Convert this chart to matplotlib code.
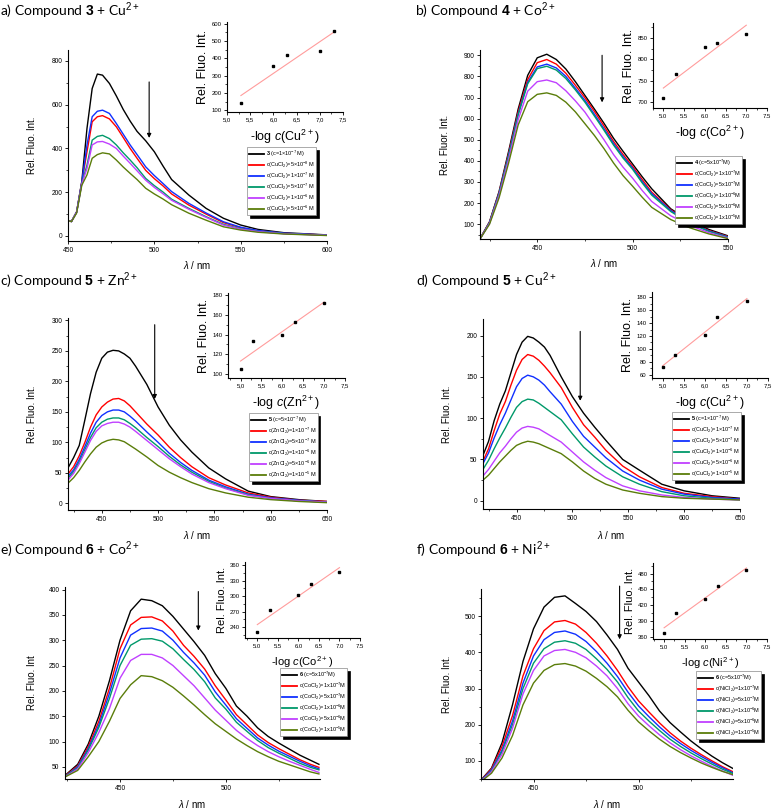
import matplotlib
matplotlib.use('Agg')
import matplotlib.pyplot as plt
from matplotlib.ticker import MultipleLocator, FuncFormatter
from matplotlib.lines import Line2D
import numpy as np

plt.rcParams['font.family'] = ['Liberation Sans', 'DejaVu Sans']
plt.rcParams['mathtext.fontset'] = 'custom'
plt.rcParams['mathtext.rm'] = 'Liberation Sans'
plt.rcParams['mathtext.it'] = 'Liberation Sans:italic'
plt.rcParams['mathtext.bf'] = 'Liberation Sans:bold'

# ---------------- data ----------------
# a) compound 3 + Cu2+
wl_a = [450, 452, 455, 458, 461, 464, 467, 470, 474, 478, 482, 486, 490, 495,
        500, 505, 510, 520, 530, 540, 550, 560, 575, 600]
a_black = [70, 66, 110, 250, 492, 674, 740, 735, 697, 640, 578, 525, 478, 435,
           385, 320, 258, 187, 126, 81, 50, 30, 15, 5]
a_red = [70, 66, 110, 245, 385, 522, 545, 550, 535, 499, 450, 400, 355, 300,
         262, 229, 192, 141, 100, 61, 38, 24, 12, 4]
a_blue = [70, 66, 110, 245, 416, 545, 570, 575, 560, 514, 465, 416, 372, 316,
          276, 240, 203, 149, 105, 65, 40, 25, 13, 4]
a_green = [70, 66, 108, 240, 324, 438, 455, 460, 445, 416, 380, 347, 312, 263,
           230, 201, 168, 126, 88, 53, 33, 21, 11, 3]
a_purple = [70, 66, 108, 238, 309, 416, 430, 432, 420, 400, 365, 332, 298, 255,
            222, 193, 163, 122, 85, 50, 31, 20, 10, 3]
a_olive = [70, 66, 105, 232, 279, 355, 372, 380, 375, 347, 315, 286, 258, 218,
           192, 169, 143, 104, 72, 42, 27, 17, 9, 2]
ins_a_x = [5.3, 6.0, 6.3, 7.0, 7.3]
ins_a_y = [140, 357, 418, 440, 558]

# b) compound 4 + Co2+
wl_b = [420, 425, 430, 435, 440, 445, 450, 455, 460, 465, 470, 475, 480, 485,
        490, 495, 500, 505, 510, 520, 530, 540, 550]
b_black = [31, 112, 255, 445, 645, 805, 888, 905, 880, 835, 775, 710, 645, 578,
           507, 445, 385, 325, 268, 173, 115, 75, 45]
b_red = [31, 110, 250, 435, 632, 785, 865, 880, 858, 815, 758, 699, 634, 565,
         492, 430, 374, 312, 252, 168, 110, 70, 42]
b_blue = [30, 108, 246, 428, 622, 772, 845, 858, 840, 800, 744, 686, 620, 552,
          482, 420, 366, 302, 245, 165, 107, 68, 40]
b_green = [30, 107, 244, 424, 617, 765, 837, 848, 830, 790, 736, 678, 612, 545,
           475, 413, 360, 296, 238, 160, 104, 66, 38]
b_purple = [30, 104, 236, 408, 595, 730, 775, 783, 770, 732, 684, 631, 565, 500,
            430, 370, 318, 260, 208, 140, 94, 60, 35]
b_olive = [30, 100, 225, 390, 570, 680, 715, 722, 710, 678, 632, 576, 520, 458,
           390, 330, 280, 228, 180, 122, 83, 54, 32]
ins_b_x = [5.0, 5.3, 6.0, 6.3, 7.0]
ins_b_y = [709, 765, 829, 839, 860]

# c) compound 5 + Zn2+
wl_c = [420, 425, 430, 435, 440, 445, 450, 455, 460, 465, 470, 475, 480, 490,
        500, 510, 520, 530, 545, 560, 580, 600, 625, 650]
c_black = [58, 75, 95, 137, 180, 215, 238, 248, 251, 250, 245, 238, 225, 195,
           158, 128, 104, 84, 58, 40, 20, 11, 6, 3]
c_red = [48, 60, 78, 100, 125, 145, 158, 166, 171, 172, 168, 160, 150, 130,
         112, 92, 75, 60, 42, 30, 17, 10, 5, 3]
c_blue = [44, 55, 72, 93, 115, 133, 144, 150, 153, 153, 150, 143, 135, 117,
          100, 82, 67, 54, 38, 27, 15, 9, 5, 2]
c_green = [41, 52, 68, 88, 108, 124, 133, 138, 140, 140, 137, 131, 124, 108,
           93, 77, 63, 51, 36, 25, 14, 8, 4, 2]
c_purple = [38, 49, 65, 84, 103, 118, 127, 131, 133, 133, 130, 125, 118, 103,
            88, 73, 60, 48, 34, 24, 13, 8, 4, 2]
c_olive = [33, 42, 54, 68, 81, 92, 99, 103, 105, 104, 101, 95, 89, 76,
           62, 51, 42, 34, 24, 17, 10, 6, 3, 1]
ins_c_x = [5.0, 5.3, 6.0, 6.3, 7.0]
ins_c_y = [105, 133, 140, 153, 172]

# d) compound 5 + Cu2+
wl_d = wl_c
d_black = [55, 72, 97, 117, 133, 155, 177, 192, 199, 197, 192, 186, 176, 150,
           126, 106, 89, 73, 50, 37, 20, 12, 6, 3]
d_red = [48, 63, 85, 105, 120, 140, 158, 171, 177, 175, 170, 163, 155, 137,
         113, 92, 77, 61, 42, 29, 16, 9, 5, 2]
d_blue = [45, 58, 76, 92, 106, 122, 138, 148, 152, 150, 146, 140, 132, 117,
          96, 78, 65, 52, 36, 25, 14, 8, 4, 2]
d_green = [38, 49, 63, 76, 88, 101, 113, 120, 123, 122, 118, 113, 108, 98,
           81, 65, 53, 42, 29, 20, 11, 6, 3, 1]
d_purple = [30, 38, 48, 58, 66, 75, 83, 88, 90, 89, 87, 83, 79, 71,
            59, 47, 37, 28, 18, 12, 7, 4, 2, 1]
d_olive = [25, 31, 39, 47, 54, 61, 67, 70, 72, 71, 69, 66, 63, 57,
           47, 36, 27, 20, 13, 9, 5, 3, 2, 1]
ins_d_x = [5.0, 5.3, 6.0, 6.3, 7.0]
ins_d_y = [72, 90, 122, 150, 174]

# e) compound 6 + Co2+
wl_e = [424, 430, 435, 440, 445, 450, 455, 460, 465, 470, 475, 480, 485, 490,
        495, 500, 505, 510, 515, 520, 525, 530, 535, 540, 544]
e_black = [33, 55, 95, 150, 220, 300, 358, 381, 378, 368, 347, 322, 297, 270,
           234, 205, 170, 150, 127, 110, 97, 85, 73, 63, 55]
e_red = [32, 52, 90, 140, 205, 283, 330, 345, 346, 338, 318, 290, 268, 243,
         210, 182, 153, 133, 113, 98, 86, 75, 64, 55, 49]
e_blue = [31, 50, 86, 133, 195, 265, 310, 323, 324, 318, 300, 276, 255, 231,
          198, 172, 145, 126, 107, 93, 81, 71, 61, 52, 46]
e_green = [31, 48, 83, 128, 185, 250, 290, 302, 303, 298, 283, 262, 242, 218,
           186, 164, 138, 120, 102, 88, 77, 67, 57, 49, 44]
e_purple = [30, 46, 78, 118, 165, 225, 260, 272, 272, 265, 250, 230, 210, 186,
            162, 142, 122, 106, 92, 80, 70, 61, 53, 45, 39]
e_olive = [30, 43, 70, 100, 140, 185, 212, 230, 228, 220, 207, 190, 172, 153,
           135, 120, 105, 92, 80, 70, 61, 54, 47, 40, 36]
ins_e_x = [5.0, 5.3, 6.0, 6.3, 7.0]
ins_e_y = [231, 273, 303, 324, 347]

# f) compound 6 + Ni2+
wl_f = [425, 430, 435, 440, 445, 450, 455, 460, 465, 470, 475, 480, 485, 490,
        495, 500, 505, 510, 515, 520, 525, 530, 535, 540, 545]
f_black = [47, 80, 150, 255, 375, 465, 525, 552, 556, 535, 513, 485, 448, 408,
           356, 318, 280, 238, 206, 180, 155, 133, 113, 95, 79]
f_red = [46, 78, 140, 225, 335, 410, 460, 484, 488, 478, 455, 425, 390, 350,
         305, 266, 235, 205, 178, 155, 135, 117, 100, 84, 70]
f_blue = [45, 75, 130, 210, 315, 390, 435, 455, 459, 450, 430, 402, 370, 333,
          290, 252, 222, 194, 169, 148, 129, 112, 96, 81, 67]
f_green = [45, 72, 125, 200, 300, 370, 410, 428, 432, 425, 408, 382, 353, 318,
           275, 238, 210, 184, 160, 140, 122, 106, 91, 77, 65]
f_purple = [44, 70, 118, 190, 285, 350, 390, 405, 408, 400, 385, 362, 335, 300,
            258, 224, 197, 172, 150, 131, 114, 99, 85, 72, 60]
f_olive = [43, 66, 108, 170, 255, 315, 350, 366, 369, 362, 348, 328, 305, 277,
           240, 208, 183, 160, 140, 123, 108, 94, 82, 71, 62]
ins_f_x = [5.0, 5.3, 6.0, 6.3, 7.0]
ins_f_y = [367, 405, 432, 457, 486]

labels_a = [r'$\mathbf{3}$ (c=1×10$^{-7}$ M)',
            r'c(CuCl$_2$)=5×10$^{-8}$ M', r'c(CuCl$_2$)=1×10$^{-7}$ M',
            r'c(CuCl$_2$)=5×10$^{-7}$ M', r'c(CuCl$_2$)=1×10$^{-6}$ M',
            r'c(CuCl$_2$)=5×10$^{-6}$ M']
labels_b = [r'$\mathbf{4}$ (c=5x10$^{-7}$M)',
            r'c(CoCl$_2$)=1x10$^{-7}$M', r'c(CoCl$_2$)=5x10$^{-7}$M',
            r'c(CoCl$_2$)=1x10$^{-6}$M', r'c(CoCl$_2$)=5x10$^{-6}$M',
            r'c(CoCl$_2$)=1x10$^{-5}$M']
labels_c = [r'$\mathbf{5}$ (c=5×10$^{-7}$ M)',
            r'c(ZnCl$_2$)=1×10$^{-7}$ M', r'c(ZnCl$_2$)=5×10$^{-7}$ M',
            r'c(ZnCl$_2$)=1×10$^{-6}$ M', r'c(ZnCl$_2$)=5×10$^{-6}$ M',
            r'c(ZnCl$_2$)=1×10$^{-5}$ M']
labels_d = [r'$\mathbf{5}$ (c=1×10$^{-7}$ M)',
            r'c(CuCl$_2$)=1×10$^{-7}$ M', r'c(CuCl$_2$)=5×10$^{-7}$ M',
            r'c(CuCl$_2$)=1×10$^{-6}$ M', r'c(CuCl$_2$)=5×10$^{-6}$ M',
            r'c(CuCl$_2$)=1×10$^{-5}$ M']
labels_e = [r'$\mathbf{6}$ (c=5x10$^{-7}$M)',
            r'c(CoCl$_2$)=1x10$^{-7}$M', r'c(CoCl$_2$)=5x10$^{-7}$M',
            r'c(CoCl$_2$)=1x10$^{-6}$M', r'c(CoCl$_2$)=5x10$^{-6}$M',
            r'c(CoCl$_2$)=1x10$^{-5}$M']
labels_f = [r'$\mathbf{6}$ (c=5x10$^{-7}$M)',
            r'c(NiCl$_2$)=1x10$^{-7}$M', r'c(NiCl$_2$)=5x10$^{-7}$M',
            r'c(NiCl$_2$)=1x10$^{-6}$M', r'c(NiCl$_2$)=5x10$^{-6}$M',
            r'c(NiCl$_2$)=1x10$^{-5}$M']

COLORS = ['#000000', '#ff0000', '#1030ff', '#00996a', '#c040ff', '#5a7d0a']
FIT_COLOR = '#ff9c9c'

W, H = 780, 809
fig = plt.figure(figsize=(7.8, 8.09), dpi=100)


def box(l, t, r, b):
    return [l / W, 1 - b / H, (r - l) / W, (b - t) / H]


def style_axes(ax, fs):
    for s in ['top', 'right']:
        ax.spines[s].set_visible(False)
    for s in ['left', 'bottom']:
        ax.spines[s].set_linewidth(0.8)
    ax.tick_params(which='major', direction='out', length=2.5, width=0.6,
                   labelsize=fs, pad=1.5)
    ax.tick_params(which='minor', direction='out', length=1.5, width=0.5)


def panel(p):
    ax = fig.add_axes(box(*p['main']))
    style_axes(ax, 4.8)
    for ys, c in zip(p['series'], COLORS):
        ax.plot(p['wl'], ys, color=c, lw=1.0)
    ax.set_xlim(*p['xlim'])
    ax.set_ylim(*p['ylim'])
    ax.xaxis.set_major_locator(MultipleLocator(50))
    ax.xaxis.set_minor_locator(MultipleLocator(25))
    ax.yaxis.set_major_locator(MultipleLocator(p['ymaj']))
    if p['ymin']:
        ax.yaxis.set_minor_locator(MultipleLocator(p['ymin']))
    ax.yaxis.set_major_formatter(FuncFormatter(lambda v, _: '%d' % v))
    # arrow
    ax.annotate('', xy=(p['arrow'][0], p['arrow'][2]),
                xytext=(p['arrow'][0], p['arrow'][1]),
                arrowprops=dict(arrowstyle='-|>', color='k', lw=0.8,
                                mutation_scale=6, shrinkA=0, shrinkB=0),
                annotation_clip=False)
    l, t, r, b = p['main']
    fig.text(p['ylx'] / W, 1 - (t + b) / 2 / H, p['ylabel'], rotation=90,
             ha='center', va='center', fontsize=7)
    fig.text((l + r) / 2 / W, 1 - p['xly'] / H, r'$\mathit{\lambda}$ / nm',
             ha='center', va='center', fontsize=7)
    fig.text(p['title_xy'][0] / W, 1 - p['title_xy'][1] / H, p['title'],
             family='Lato', fontsize=10, va='baseline')
    handles = [Line2D([], [], color=c, lw=1.3) for c in COLORS]
    leg = ax.legend(handles, p['labels'], loc='upper left',
                    bbox_to_anchor=(p['leg'][0] / W, 1 - p['leg'][1] / H),
                    bbox_transform=fig.transFigure, fontsize=4.0,
                    fancybox=False, shadow={'color': 'k', 'alpha': 1},
                    borderpad=0.3, labelspacing=0.12, handlelength=2.7,
                    handletextpad=0.35, borderaxespad=0, framealpha=1)
    leg.get_frame().set_edgecolor('#888888')
    leg.get_frame().set_linewidth(0.5)

    # inset
    ai = fig.add_axes(box(*p['inset']))
    style_axes(ai, 4.3)
    ix, iy = p['ins_x'], p['ins_y']
    coef = np.polyfit(ix, iy, 1)
    fx = [min(ix), max(ix)]
    ai.plot(fx, np.polyval(coef, fx), color=FIT_COLOR, lw=0.8)
    ai.plot(ix, iy, ls='none', marker='s', ms=1.6, color='k')
    ai.set_xlim(*p['ins_xlim'])
    ai.set_ylim(*p['ins_ylim'])
    ai.xaxis.set_major_locator(MultipleLocator(0.5))
    ai.xaxis.set_minor_locator(MultipleLocator(0.25))
    ai.yaxis.set_major_locator(MultipleLocator(p['ins_ymaj']))
    ai.yaxis.set_minor_locator(MultipleLocator(p['ins_ymaj'] / 2))
    if p['comma']:
        ai.xaxis.set_major_formatter(
            FuncFormatter(lambda v, _: ('%.1f' % v).replace('.', ',')))
    else:
        ai.xaxis.set_major_formatter(FuncFormatter(lambda v, _: '%.1f' % v))
    ai.yaxis.set_major_formatter(FuncFormatter(lambda v, _: '%d' % v))
    ai.set_ylabel('Rel. Fluo. Int.', fontsize=p['ifs'], labelpad=2)
    ai.set_xlabel(p['ins_xlabel'], fontsize=p['ifs'], labelpad=4)


panels = [
    dict(main=(68, 50, 327, 241), inset=(227, 22, 343, 112),
         title=r'a) Compound $\mathbf{3}$ + Cu$^{2+}$', title_xy=(0, 16),
         wl=wl_a, series=[a_black, a_red, a_blue, a_green, a_purple, a_olive],
         labels=labels_a, xlim=(450, 600), ylim=(-23, 850), ymaj=200, ymin=100,
         ylabel='Rel. Fluo. Int.', ylx=32, xly=265, arrow=(497, 704, 448),
         leg=(247, 147), ins_x=ins_a_x, ins_y=ins_a_y, ins_xlim=(5.0, 7.5),
         ins_ylim=(90, 610), ins_ymaj=100, comma=True, ifs=9,
         ins_xlabel=r'-log $c$(Cu$^{2+}$)'),
    dict(main=(480, 50, 728, 239), inset=(653, 23, 767, 108),
         title=r'b) Compound $\mathbf{4}$ + Co$^{2+}$', title_xy=(415, 16),
         wl=wl_b, series=[b_black, b_red, b_blue, b_green, b_purple, b_olive],
         labels=labels_b, xlim=(420, 550), ylim=(30, 925), ymaj=100, ymin=50,
         ylabel='Rel. Fluor. Int.', ylx=445, xly=263, arrow=(484, 900, 677),
         leg=(675, 156), ins_x=ins_b_x, ins_y=ins_b_y, ins_xlim=(4.75, 7.5),
         ins_ylim=(686, 885), ins_ymaj=50, comma=False, ifs=9,
         ins_xlabel=r'-log $c$(Co$^{2+}$)'),
    dict(main=(68, 318, 327, 510), inset=(228, 293, 345, 378),
         title=r'c) Compound $\mathbf{5}$ + Zn$^{2+}$', title_xy=(0, 286),
         wl=wl_c, series=[c_black, c_red, c_blue, c_green, c_purple, c_olive],
         labels=labels_c, xlim=(420, 650), ylim=(-11, 304), ymaj=50, ymin=25,
         ylabel='Rel. Fluo. Int.', ylx=32, xly=535, arrow=(497, 293, 171),
         leg=(249, 413), ins_x=ins_c_x, ins_y=ins_c_y, ins_xlim=(4.7, 7.5),
         ins_ylim=(96, 182), ins_ymaj=20, comma=True, ifs=9,
         ins_xlabel=r'-log $c$(Zn$^{2+}$)'),
    dict(main=(483, 319, 740, 509), inset=(652, 292, 768, 378),
         title=r'd) Compound $\mathbf{5}$ + Cu$^{2+}$', title_xy=(416, 286),
         wl=wl_d, series=[d_black, d_red, d_blue, d_green, d_purple, d_olive],
         labels=labels_d, xlim=(420, 650), ylim=(-10, 220), ymaj=50, ymin=25,
         ylabel='Rel. Fluo. Int.', ylx=447, xly=535, arrow=(507, 205, 121),
         leg=(672, 412), ins_x=ins_d_x, ins_y=ins_d_y, ins_xlim=(4.75, 7.5),
         ins_ylim=(55, 188), ins_ymaj=20, comma=True, ifs=9,
         ins_xlabel=r'-log $c$(Cu$^{2+}$)'),
    dict(main=(65, 587, 320, 779), inset=(245, 562, 360, 638),
         title=r'e) Compound $\mathbf{6}$ + Co$^{2+}$', title_xy=(0, 555),
         wl=wl_e, series=[e_black, e_red, e_blue, e_green, e_purple, e_olive],
         labels=labels_e, xlim=(424, 544.5), ylim=(26, 405), ymaj=50, ymin=None,
         ylabel='Rel. Fluo. Int', ylx=32, xly=804, arrow=(487, 396, 319),
         leg=(280, 668), ins_x=ins_e_x, ins_y=ins_e_y, ins_xlim=(4.7, 7.5),
         ins_ylim=(219, 366), ins_ymaj=30, comma=False, ifs=8,
         ins_xlabel=r'-log $c$(Co$^{2+}$)'),
    dict(main=(481, 589, 733, 779), inset=(653, 563, 767, 639),
         title=r'f) Compound $\mathbf{6}$ + Ni$^{2+}$', title_xy=(416, 555),
         wl=wl_f, series=[f_black, f_red, f_blue, f_green, f_purple, f_olive],
         labels=labels_f, xlim=(425, 545), ylim=(50, 575), ymaj=100, ymin=50,
         ylabel='Rel. Fluo. Int.', ylx=447, xly=804, arrow=(491, 583, 436),
         leg=(696, 671), ins_x=ins_f_x, ins_y=ins_f_y, ins_xlim=(4.73, 7.5),
         ins_ylim=(356, 500), ins_ymaj=30, comma=False, ifs=8,
         ins_xlabel=r'-log $c$(Ni$^{2+}$)'),
]

for p in panels:
    panel(p)

fig.savefig('out.png', dpi=100, facecolor='white')
